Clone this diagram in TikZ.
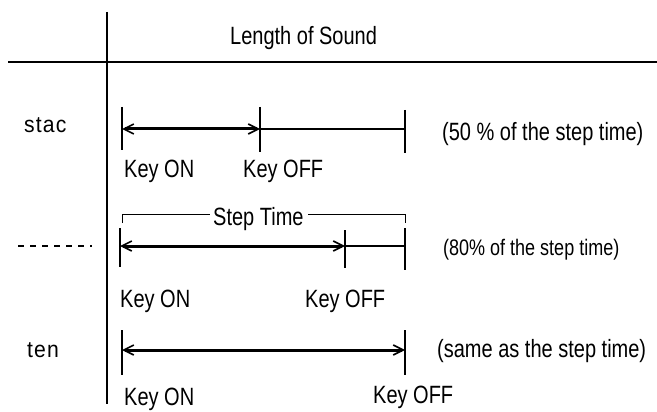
\documentclass[tikz,border=0pt]{standalone}
\usepackage{fontspec}
\setmainfont[FakeStretch=0.8]{Liberation Sans}
\newfontfamily\rowfont[FakeStretch=0.92,LetterSpace=5]{Liberation Sans}
\usetikzlibrary{arrows.meta}
\begin{document}
\begin{tikzpicture}[x=1pt,y=-1pt,
  lbl/.style={inner sep=0pt,anchor=base west,font=\fontsize{25}{28}\selectfont},
  rowlbl/.style={inner sep=0pt,anchor=base west,font=\rowfont\fontsize{23}{26}\selectfont},
  small/.style={inner sep=0pt,anchor=base west,font=\fontsize{22.5}{26}\selectfont},
  tick/.style={line width=1.5pt},
  thin/.style={line width=1.4pt},
  thick/.style={line width=3pt,{Straight Barb[length=10pt,width=10pt,line width=1.6pt]}-{Straight Barb[length=10pt,width=10pt,line width=1.6pt]}},
  axis/.style={line width=1.6pt}]
\useasboundingbox (0,0) rectangle (657,412);
% axes
\coordinate (vt) at (107,12); \coordinate (vb) at (107,404);
\coordinate (hl) at (8,62); \coordinate (hr) at (657,62);
\draw[axis] (vt) -- (vb);
\draw[axis] (hl) -- (hr);
\node[lbl] (title) at (230,45) {Length of Sound};
% row labels
\node[rowlbl] (stac) at (24,132) {stac};
\coordinate (dl) at (18,246); \coordinate (dr) at (92,246);
\draw[line width=1.2pt,dash pattern=on 6pt off 6pt] (dl) -- (dr);
\node[rowlbl] (ten) at (27,357) {ten};
% row 1: stac
\coordinate (a1t) at (122,107); \coordinate (a1b) at (122,150);
\coordinate (b1t) at (260,107); \coordinate (b1b) at (260,152);
\coordinate (c1t) at (405,110); \coordinate (c1b) at (405,153);
\coordinate (a1) at (122,129); \coordinate (b1) at (260,129); \coordinate (c1) at (405,129);
\draw[tick] (a1t) -- (a1b);
\draw[tick] (b1t) -- (b1b);
\draw[tick] (c1t) -- (c1b);
\draw[thick] (a1) -- (b1);
\draw[thin] (b1) -- (c1);
\node[lbl] (p1) at (442,141) {(50 \% of the step time)};
\node[lbl] (on1) at (124,177) {Key ON};
\node[lbl] (off1) at (243,177) {Key OFF};
% step time bracket
\coordinate (sl) at (122,223); \coordinate (slt) at (122,214);
\coordinate (sr) at (405,223); \coordinate (srt) at (405,214);
\node[lbl] (st) at (213,225) {Step Time};
\coordinate (stl) at (210,214); \coordinate (str) at (308,214);
\draw[line width=1pt] (sl) -- (slt) -- (stl);
\draw[line width=1pt] (str) -- (srt) -- (sr);
% row 2
\coordinate (a2t) at (120,228); \coordinate (a2b) at (120,267);
\coordinate (b2t) at (345,230); \coordinate (b2b) at (345,268);
\coordinate (c2t) at (405,228); \coordinate (c2b) at (405,270);
\coordinate (a2) at (120,246); \coordinate (b2) at (345,246); \coordinate (c2) at (405,246);
\draw[tick] (a2t) -- (a2b);
\draw[tick] (b2t) -- (b2b);
\draw[tick] (c2t) -- (c2b);
\draw[thick] (a2) -- (b2);
\draw[thin] (b2) -- (c2);
\node[small] (p2) at (443,255) {(80\% of the step time)};
\node[lbl] (on2) at (120,307) {Key ON};
\node[lbl] (off2) at (305,307) {Key OFF};
% row 3: ten
\coordinate (a3t) at (122,330); \coordinate (a3b) at (122,375);
\coordinate (c3t) at (405,330); \coordinate (c3b) at (405,375);
\coordinate (a3) at (122,350); \coordinate (c3) at (405,350);
\draw[tick] (a3t) -- (a3b);
\draw[tick] (c3t) -- (c3b);
\draw[thick] (a3) -- (c3);
\node[lbl] (p3) at (437,357) {(same as the step time)};
\node[lbl] (on3) at (124,405) {Key ON};
\node[lbl] (off3) at (373,403) {Key OFF};
\end{tikzpicture}
\end{document}
